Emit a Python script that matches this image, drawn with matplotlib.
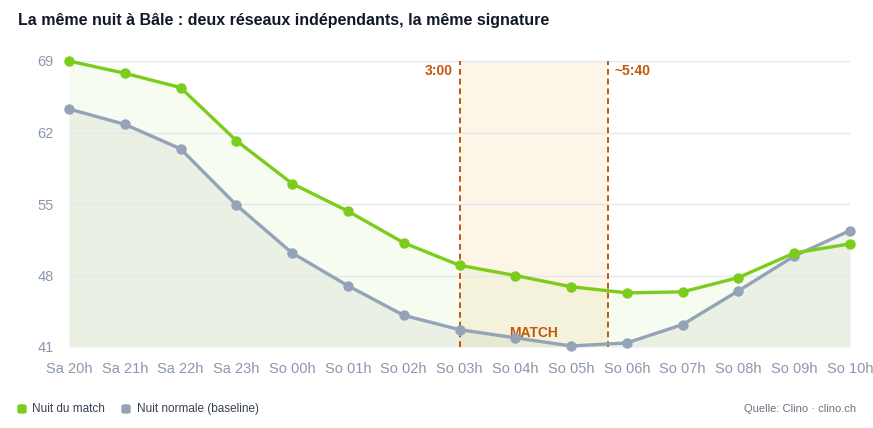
import matplotlib.pyplot as plt
import numpy as np
from matplotlib.patches import FancyBboxPatch

plt.rcParams['font.family'] = ['Liberation Sans', 'DejaVu Sans']

hours = ['Sa 20h', 'Sa 21h', 'Sa 22h', 'Sa 23h', 'So 00h', 'So 01h', 'So 02h', 'So 03h',
         'So 04h', 'So 05h', 'So 06h', 'So 07h', 'So 08h', 'So 09h', 'So 10h']
match_night = [69.0, 67.8, 66.4, 61.2, 57.0, 54.3, 51.2, 49.0, 48.0, 46.9, 46.3, 46.4, 47.8, 50.2, 51.1]
normal_night = [64.3, 62.8, 60.4, 54.9, 50.2, 47.0, 44.1, 42.7, 41.9, 41.1, 41.4, 43.2, 46.5, 49.9, 52.4]
y_ticks = [41, 48, 55, 62, 69]
match_start = 7          # 3:00
match_end = 7 + 40 / 60 * 4  # ~5:40

green = '#7ccc1c'
grey = '#94a3b8'
orange = '#c2570c'

fig = plt.figure(figsize=(8.73, 4.28), dpi=100)
ax = fig.add_axes([69 / 873, 1 - 347 / 428, (850 - 69) / 873, (347 - 61) / 428])

x = np.arange(len(hours))

# match window
ax.axvspan(match_start, match_end, color='#fdf5e8', zorder=0, lw=0)
for xv in (match_start, match_end):
    ax.axvline(xv, color=orange, ls=(0, (3, 2)), lw=1.4, zorder=4)
ax.text(match_start - 0.12, 68.0, '3:00', color=orange, fontsize=10, fontweight='bold',
        ha='right', va='center')
ax.text(match_end + 0.12, 68.0, '~5:40', color=orange, fontsize=10, fontweight='bold',
        ha='left', va='center')
ax.text((match_start + match_end) / 2, 42.4, 'MATCH', color=orange, fontsize=10,
        fontweight='bold', ha='center', va='center', zorder=3)

# areas + lines
ax.fill_between(x, match_night, 41, color=green, alpha=0.06, lw=0, zorder=1)
ax.fill_between(x, normal_night, 41, color=grey, alpha=0.09, lw=0, zorder=1)
ax.fill_between(x, normal_night, 41, color=green, alpha=0.03, lw=0, zorder=1)
ax.plot(x, normal_night, color=grey, lw=2.4, marker='o', ms=6.5, zorder=5, clip_on=False,
        label='Nuit normale (baseline)')
ax.plot(x, match_night, color=green, lw=2.4, marker='o', ms=6.5, zorder=6, clip_on=False,
        label='Nuit du match')

ax.set_xlim(0, 14)
ax.set_ylim(41, 69)
ax.set_yticks(y_ticks)
ax.set_xticks(x)
ax.set_xticklabels(hours)
ax.tick_params(axis='both', length=0, labelsize=10.5, labelcolor='#8a97ad')
ax.tick_params(axis='y', pad=11)
ax.tick_params(axis='x', pad=11)
ax.set_axisbelow(False)
ax.grid(axis='y', color='#e2e8f0', lw=1, zorder=2)
for s in ax.spines.values():
    s.set_visible(False)

fig.text(18 / 873, 1 - 20 / 428, 'La même nuit à Bâle : deux réseaux indépendants, la même signature',
         fontsize=11.5, fontweight='bold', color='#111827', va='center', ha='left')

# legend
def legend_box(px, color):
    fig.patches.append(FancyBboxPatch((px / 873, 1 - 413 / 428), 8 / 873, 8 / 428,
                                      boxstyle='round,pad=0,rounding_size=0.003',
                                      color=color, transform=fig.transFigure, figure=fig))

legend_box(18, green)
fig.text(32 / 873, 1 - 409 / 428, 'Nuit du match', fontsize=8.5, color='#374151', va='center')
legend_box(122, grey)
fig.text(137 / 873, 1 - 409 / 428, 'Nuit normale (baseline)', fontsize=8.5, color='#374151', va='center')
fig.text(856 / 873, 1 - 409 / 428, 'Quelle: Clino · clino.ch', fontsize=8, color='#6b7280',
         va='center', ha='right')

fig.savefig('out.png', dpi=100)
